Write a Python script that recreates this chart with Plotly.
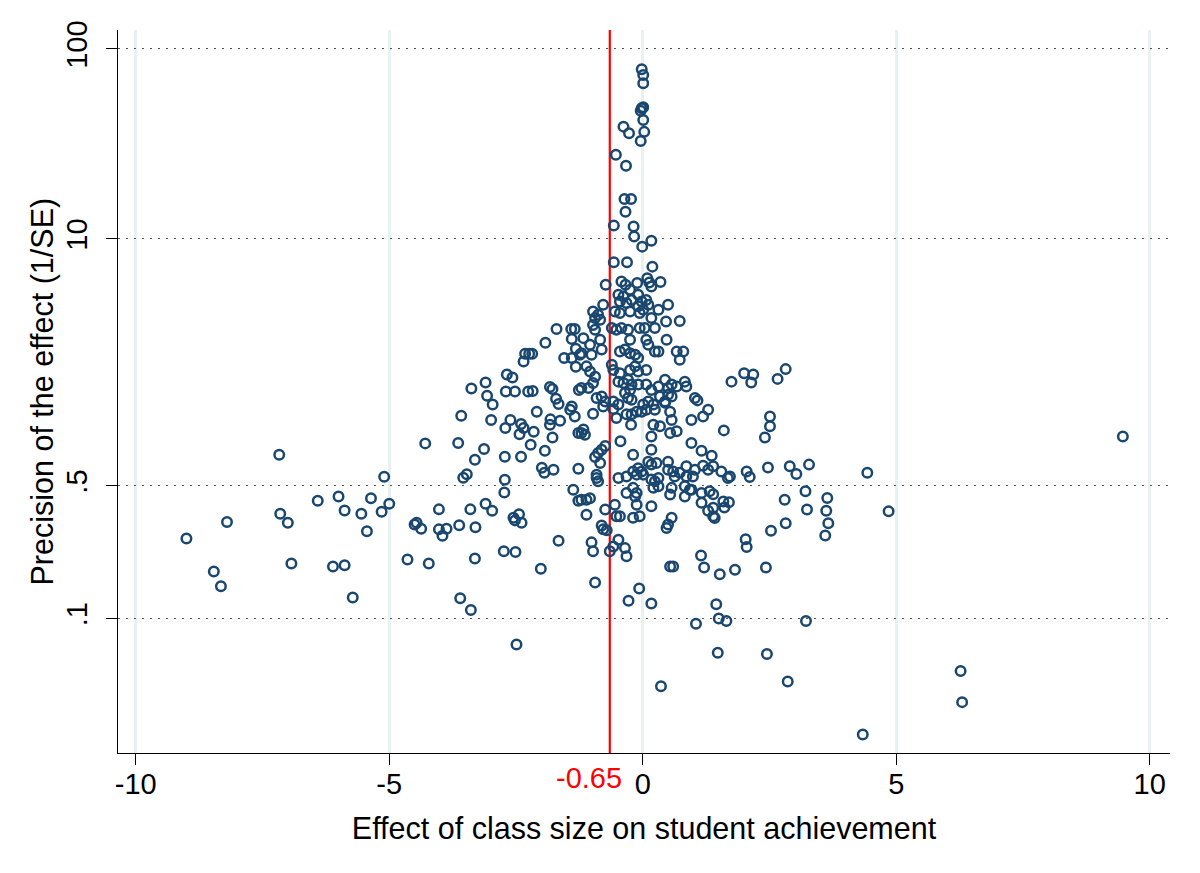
import plotly.graph_objects as go

# Effect of class size (x) and precision 1/SE (y)
effect = [
    # far left
    -7.17, -5.10, -6.41, -6.00, -5.36, -5.00, -5.88, -5.55, -5.15, -7.15, -7.00, -8.20, -5.44,
    -9.00, -4.64, -6.93, -6.11, -5.88, -8.46, -8.32, -5.72,
    # left-centre
    -1.70, -1.41, -1.34, -1.40, -1.92, -1.32, -2.32, -2.24, -2.18, -2.35, -1.55, -1.40, -1.32,
    -2.68, -2.57, -3.10, -3.38, -3.07, -2.96, -2.70, -2.52, -2.26, -2.17, -1.83, -1.78, -1.26,
    -1.71, -1.66, -1.43, -1.34, -2.09, -3.58, -2.99, -2.61, -2.71, -2.40, -2.35, -2.15, -2.43,
    -1.82, -1.63, -1.83, -1.78, -1.27, -4.29, -3.64, -3.13, -3.31, -2.72, -2.40, -2.21, -1.93,
    -1.99, -1.94, -1.76, -1.27, -3.54, -3.47, -2.72, -2.73, -1.37, -1.27, -4.02, -3.40, -3.10,
    -2.97, -2.55, -2.44, -2.52, -2.39, -4.50, -4.46, -4.37, -4.02, -3.87, -3.95, -3.62, -3.30,
    -1.66, -4.22, -3.31, -2.74, -2.51, -2.01, -3.60, -3.39, -2.49,
    # top spike
    -0.02, 0.01, 0.01, -0.02, 0.01, -0.04, 0.01, -0.38, -0.27, 0.03, -0.04, -0.53, -0.33,
    -0.36, -0.23, -0.34, -0.57, -0.18, -0.17, 0.17, -0.01, -0.57, -0.31, 0.19, -0.73, -0.42,
    -0.34, -0.11, 0.09, 0.13, 0.35,
    # dense centre, upper
    -0.25, 0.17, -0.48, -0.38, -0.45, -0.32, -0.22, -0.09, -0.02, -0.09, 0.07, 0.11, 0.01,
    -0.98, -0.88, -0.78, -0.94, -0.84, -0.55, -0.45, -0.25, -0.06, 0.31, 0.50, 0.17, 0.46,
    0.73, 0.24, -0.61, -0.52, -0.42, -0.29, -0.06, 0.04, -0.98, -0.94, -1.17, -1.04, -0.84,
    -0.81, -1.01, -1.21, -0.25, -0.45, -0.35, -0.25, -0.15, -0.09, 0.07, 0.11, 0.24, 0.31,
    0.47, 0.67, 0.80, 0.73, -1.24, -1.11, -1.04, -0.94, -0.98, -0.61, -0.58, -0.45, -0.25,
    -0.15, -0.09, 0.07, -0.48, -0.38, -0.29, -0.22, -0.35, -0.25, -0.09, 0.07, 0.17, 0.31,
    0.34, 0.44, 0.50, 0.57, 0.50, 0.67, 0.83, 0.86, -1.21, -1.07, -0.91, -0.81, -0.74, -0.78,
    -0.58, -0.48, -0.29, -0.22, 0.01, 0.11, 0.21, -1.40, 0.44, 0.57, 1.03,
    # dense centre, lower
    -0.98, -0.58, -0.52, -0.32, -0.22, -0.12, -0.02, 0.07, 0.24, 0.44, -0.23, 0.54, 0.57,
    0.67, 0.54, 0.21, 0.34, 0.17, 0.96, -1.17, -1.14, -1.21, -0.44, 0.96, -0.19, 0.17, -0.94,
    -0.88, -0.81, -0.74, -0.84, 0.11, 0.17, 0.27, 0.50, -0.09, -0.02, -0.12, 0.01, -0.19,
    -0.48, -0.32, -0.91, -0.88, -0.91, 0.50, 0.60, 0.63, 0.73, 0.86, 0.86, 0.99, 1.03, 0.17,
    0.24, 0.31, -0.32, -0.19, -0.12, -0.15, 0.21, 0.31, 0.57, 0.83, 0.93, 0.54, 0.83, -1.21,
    -1.11, -1.04, -1.11, -0.74, -0.55, -0.12, 0.17, -0.52, -0.45, -0.19, -0.06, 0.57, 0.50,
    0.47, -0.81, -0.78, -0.71, -1.01, -0.98, -0.65, -0.58, -0.48, -0.35, -0.32, 0.54, 0.60,
    -0.94, -0.07, -0.28, 0.17, 0.36, 1.05,
    # right
    1.75, 2.00, 2.18, 2.14, 2.66, 2.82, 1.08, 1.19, 1.29, 1.60, 2.51, 2.51, 2.41, 1.16, 1.36,
    1.19, 1.29, 1.39, 1.55, 1.72, 1.68, 2.05, 2.11, 2.47, 2.90, 3.03, 3.28, 4.43, 0.96, 1.16,
    1.32, 1.39, 1.16, 1.29, 1.39, 1.42, 1.39, 1.59, 1.61, 1.70, 2.80, 3.21, 3.24, 3.64, 3.62,
    3.66, 3.60, 2.82, 2.53, 2.03, 2.05, 1.15, 1.21, 1.52, 1.82, 2.43,
    1.45, 1.50, 1.65, 1.48, 2.45, 2.86, 3.22,
    9.47, 4.85, 6.27, 6.30, 4.34,
]

precision = [
    # far left
    0.73, 0.559, 0.418, 0.439, 0.43, 0.403, 0.371, 0.357, 0.365, 0.357, 0.32, 0.323, 0.288,
    0.264, 0.205, 0.195, 0.188, 0.191, 0.177, 0.148, 0.129,
    # left-centre
    3.35, 3.35, 3.35, 2.97, 2.84, 2.64, 2.48, 2.48, 2.48, 2.26, 2.36, 2.36, 2.12,
    1.93, 1.86, 1.75, 1.63, 1.49, 1.34, 1.57, 1.57, 1.57, 1.58, 1.66, 1.62, 1.60,
    1.44, 1.35, 1.26, 1.16, 1.23, 1.17, 1.11, 1.11, 1.01, 1.06, 1.01, 0.964, 0.934,
    1.12, 1.10, 1.05, 0.90, 0.95, 0.837, 0.84, 0.782, 0.687, 0.712, 0.712, 0.823, 0.766,
    0.623, 0.587, 0.608, 0.615, 0.552, 0.575, 0.539, 0.462, 0.477, 0.418, 0.376, 0.376, 0.403,
    0.37, 0.34, 0.354, 0.329, 0.32, 0.313, 0.32, 0.297, 0.295, 0.297, 0.273, 0.31, 0.303,
    0.257, 0.195, 0.207, 0.226, 0.224, 0.183, 0.128, 0.111, 0.073,
    # top spike
    78.2, 73.0, 66.0, 48.7, 49.3, 47.3, 42.3, 39.0, 36.0, 36.6, 32.8, 27.7, 24.3,
    16.2, 16.2, 13.9, 11.75, 11.6, 10.3, 9.76, 9.1, 7.53, 7.53, 7.14, 5.73, 5.96,
    5.73, 5.85, 6.21, 5.89, 5.92,
    # dense centre, upper
    5.39, 5.61, 5.07, 4.97, 4.68, 4.59, 4.77, 5.07, 4.68, 4.41, 4.77, 4.5, 4.23,
    4.14, 3.98, 4.5, 3.83, 3.75, 4.14, 4.07, 4.14, 4.07, 4.23, 4.5, 3.83, 3.67,
    3.69, 3.39, 3.39, 3.32, 3.39, 3.32, 3.39, 3.39, 3.52, 3.32, 3.0, 2.77, 2.94,
    2.61, 2.45, 2.5, 2.94, 2.55, 2.61, 2.5, 2.45, 2.36, 2.94, 2.77, 2.55, 2.55,
    2.94, 2.55, 2.55, 2.31, 2.45, 2.13, 2.0, 1.88, 1.74, 2.17, 2.04, 1.96, 2.04,
    2.13, 2.0, 2.04, 1.77, 1.74, 1.81, 1.71, 1.54, 1.6, 1.71, 1.71, 1.6, 1.67,
    1.48, 1.81, 1.64, 1.71, 1.51, 1.67, 1.77, 1.67, 1.64, 1.64, 1.45, 1.48, 1.39, 1.31,
    1.39, 1.34, 1.45, 1.42, 1.34, 1.39, 1.34, 1.31, 1.39, 1.48, 1.45,
    # dense centre, lower
    1.2, 1.27, 1.14, 1.19, 1.19, 1.23, 1.23, 1.26, 1.26, 1.37, 1.05, 1.23, 1.11,
    0.97, 0.95, 1.05, 1.03, 0.91, 1.11, 0.99, 0.93, 0.95, 0.86, 0.84, 0.73, 0.775, 0.71,
    0.745, 0.775, 0.81, 0.66, 0.67, 0.647, 0.66, 0.67, 0.62, 0.596, 0.573, 0.573, 0.596,
    0.55, 0.56, 0.55, 0.528, 0.573, 0.608, 0.596, 0.56, 0.587, 0.634, 0.56, 0.56, 0.608, 0.54,
    0.528, 0.55, 0.459, 0.488, 0.459, 0.44, 0.488, 0.497, 0.488, 0.497, 0.477, 0.45, 0.44, 0.423,
    0.423, 0.43, 0.352, 0.375, 0.398, 0.398, 0.39, 0.346, 0.346, 0.34, 0.346, 0.34, 0.313,
    0.30, 0.309, 0.295, 0.292, 0.252, 0.226, 0.226, 0.24, 0.26, 0.235, 0.213, 0.188, 0.188,
    0.155, 0.144, 0.124, 0.12, 0.044, 0.094,
    # right
    1.77, 1.96, 1.93, 1.75, 1.83, 2.06, 1.41, 1.16, 1.26, 0.98, 1.16, 1.03, 0.90, 0.766, 0.72,
    0.638, 0.608, 0.634, 0.596, 0.56, 0.55, 0.596, 0.556, 0.625, 0.634, 0.578, 0.647, 0.587, 0.477, 0.459,
    0.468, 0.452, 0.407, 0.37, 0.383, 0.339, 0.346, 0.414, 0.385, 0.41, 0.423, 0.468, 0.375, 0.432, 0.37,
    0.318, 0.274, 0.318, 0.29, 0.262, 0.238, 0.215, 0.186, 0.171, 0.181, 0.186,
    0.119, 0.10, 0.097, 0.066, 0.065, 0.0466, 0.097,
    0.91, 0.367, 0.053, 0.0363, 0.0245,
]

mean_effect = -0.65
x_tick_vals = [-10, -5, 0, 5, 10]
x_tick_text = ["-10", "-5", "0", "5", "10"]
y_tick_vals = [0.1, 0.5, 10, 100]
y_tick_text = [".1", ".5", "10", "100"]

FONT = "Liberation Sans, Arial, Helvetica, sans-serif"
NAVY = "#1a476f"

fig = go.Figure()
fig.add_trace(go.Scatter(
    x=effect, y=precision, mode="markers",
    marker=dict(symbol="circle-open", size=9.5, color=NAVY, line=dict(width=2.5, color=NAVY)),
    showlegend=False, hoverinfo="x+y",
))

# reference line at zero and the mean effect line
fig.add_shape(type="line", xref="x", yref="paper", x0=0, x1=0, y0=0, y1=1,
              line=dict(color="#a9d4e6", width=2.5), layer="below")
fig.add_shape(type="line", xref="x", yref="paper", x0=mean_effect, x1=mean_effect, y0=0, y1=1,
              line=dict(color="#ff0000", width=2.2), layer="below")

fig.add_annotation(x=mean_effect, y=0, xref="x", yref="paper", text="-0.65",
                   showarrow=False, xanchor="right", yanchor="top", xshift=14, yshift=-7,
                   font=dict(family=FONT, size=29, color="#ff0000"))

# y-axis title placed as rotated text left of the tick labels
fig.add_annotation(x=0, y=0.5, xref="paper", yref="paper", text="Precision of the effect (1/SE)",
                   showarrow=False, textangle=-90, xanchor="center", yanchor="middle", xshift=-76,
                   font=dict(family=FONT, size=30.5, color="black"))

fig.update_layout(
    width=1200, height=873,
    margin=dict(l=110, r=38, t=22, b=127.5),
    paper_bgcolor="white", plot_bgcolor="white",
    font=dict(family=FONT, size=29, color="black"),
    xaxis=dict(
        range=[-10.35, 10.40], tickmode="array", tickvals=x_tick_vals, ticktext=x_tick_text,
        showline=True, linecolor="black", linewidth=1.4, mirror=False, automargin=False,
        ticks="outside", ticklen=11, tickwidth=1.4, tickcolor="black",
        ticklabelstandoff=-6,
        tickfont=dict(family=FONT, size=29, color="black"),
        showgrid=True, gridcolor="#e8f0f2", gridwidth=2.5, zeroline=False,
        title=dict(text="Effect of class size on student achievement",
                   font=dict(family=FONT, size=30.5, color="black"), standoff=18),
    ),
    yaxis=dict(
        type="log", range=[-1.708, 2.10], tickmode="array", tickvals=y_tick_vals, ticktext=y_tick_text,
        showline=True, linecolor="black", linewidth=1.4, automargin=False,
        ticks="outside", ticklen=11, tickwidth=1.4, tickcolor="black", tickangle=-90,
        ticklabelstandoff=7,
        tickfont=dict(family=FONT, size=29, color="black"),
        showgrid=True, gridcolor="#555555", gridwidth=1.3, griddash="2px,6px", zeroline=False,
    ),
)

fig.write_html("out.html")
